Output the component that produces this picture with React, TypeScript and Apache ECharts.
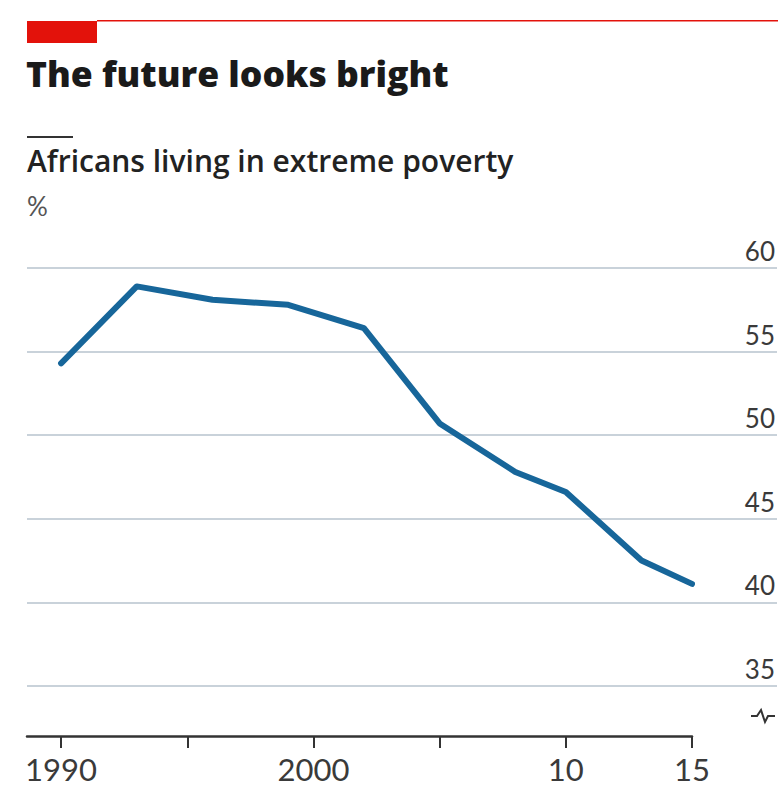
import React, { useEffect, useRef } from "react";
import * as echarts from "echarts";

// Share of Africans living in extreme poverty, %
const years = [1990, 1993, 1996, 1999, 2002, 2005, 2008, 2010, 2013, 2015];
const povertyRate = [54.3, 58.9, 58.1, 57.8, 56.4, 50.7, 47.8, 46.6, 42.5, 41.1];

const yTicks = [35, 40, 45, 50, 55, 60];
const xTicks = [1990, 1995, 2000, 2005, 2010, 2015];
const xLabelYears = [1990, 2000, 2010, 2015];
const xLabelTexts = ["1990", "2000", "10", "15"];

const titleText = "The future looks bright";
const subtitleText = "Africans living in extreme poverty";
const unitText = "%";

const RED = "#e3120b";
const INK = "#1a1a1a";
const NUM_FONT = "Lato, 'Noto Sans', sans-serif";
const TEXT_FONT = "'Open Sans', 'Noto Sans', sans-serif";

export default function App() {
  const ref = useRef<HTMLDivElement>(null);

  useEffect(() => {
    if (!ref.current) return;
    const chart = echarts.init(ref.current, null, { renderer: "svg" });

    const labelFor = (v: number) => {
      const i = xLabelYears.indexOf(Math.round(v));
      return i >= 0 ? xLabelTexts[i] : "";
    };

    chart.setOption({
      animation: false,
      backgroundColor: "#ffffff",
      grid: [
        // gridlines and right-hand value labels
        { left: 27, right: 0, top: 268, bottom: 101 },
        // data and year axis (axis runs below a broken scale)
        { left: 27, right: 86, top: 268, bottom: 51 },
      ],
      xAxis: [
        { gridIndex: 0, type: "value", min: 1988.65, max: 2018.4, show: false },
        {
          gridIndex: 1,
          type: "value",
          min: 1988.65,
          max: 2015,
          axisLine: { show: true, lineStyle: { color: "#333333", width: 2.5 } },
          axisTick: {
            show: true,
            customValues: xTicks,
            length: 12,
            lineStyle: { color: "#333333", width: 2 },
          },
          axisLabel: {
            customValues: xLabelYears,
            formatter: labelFor,
            margin: 17,
            fontSize: 31,
            fontFamily: NUM_FONT,
            color: "#3a3a3a",
          },
          splitLine: { show: false },
        },
      ],
      yAxis: [
        {
          gridIndex: 0,
          type: "value",
          position: "right",
          min: 35,
          max: 60,
          interval: 5,
          axisLine: { show: false },
          axisTick: { show: false },
          axisLabel: {
            inside: true,
            margin: 2,
            verticalAlign: "bottom",
            padding: [0, 0, 4, 0],
            fontSize: 26,
            fontFamily: NUM_FONT,
            color: "#3a3a3a",
          },
          splitLine: { show: true, lineStyle: { color: "#c9d2da", width: 2 } },
        },
        { gridIndex: 1, type: "value", min: 32, max: 60, show: false },
      ],
      series: [
        {
          type: "line",
          xAxisIndex: 1,
          yAxisIndex: 1,
          data: years.map((y, i) => [y, povertyRate[i]]),
          showSymbol: false,
          symbol: "none",
          lineStyle: { color: "#17669a", width: 6, join: "round", cap: "round" },
          z: 5,
        },
      ],
      graphic: [
        { type: "rect", shape: { x: 97, y: 20, width: 681, height: 1.6 }, style: { fill: RED } },
        { type: "rect", shape: { x: 27, y: 21, width: 70, height: 22 }, style: { fill: RED } },
        {
          type: "text",
          x: 26,
          y: 55,
          style: {
            text: titleText,
            font: `800 35.5px ${TEXT_FONT}`,
            fill: INK,
            verticalAlign: "top",
          },
        },
        { type: "rect", shape: { x: 27, y: 136, width: 46, height: 2 }, style: { fill: "#333333" } },
        {
          type: "text",
          x: 27,
          y: 145,
          style: {
            text: subtitleText,
            font: `600 30px ${TEXT_FONT}`,
            fill: "#222222",
            verticalAlign: "top",
          },
        },
        {
          type: "text",
          x: 27,
          y: 193,
          style: {
            text: unitText,
            font: `26px ${NUM_FONT}`,
            fill: "#555555",
            verticalAlign: "top",
          },
        },
        // scale-break mark on the value axis
        {
          type: "polyline",
          shape: {
            points: [
              [751, 716],
              [757, 716],
              [761, 710],
              [765, 722],
              [768, 716],
              [775, 716],
            ],
          },
          style: { stroke: "#333333", lineWidth: 2, fill: "none" },
        },
      ],
    });

    return () => chart.dispose();
  }, []);

  return (
    <div
      ref={ref}
      style={{ position: "fixed", left: 0, top: 0, width: 778, height: 787, background: "#fff" }}
    />
  );
}
